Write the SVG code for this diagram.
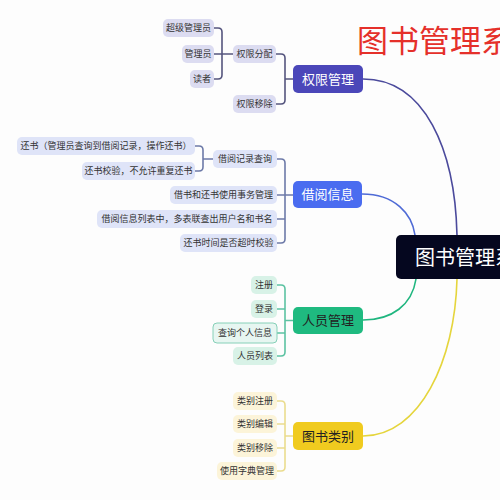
<svg xmlns="http://www.w3.org/2000/svg" width="500" height="500" viewBox="0 0 500 500">
<style>
text{font-family:"Noto Sans CJK SC","Noto Sans",sans-serif;}
.c{font-size:9px;fill:#333;text-anchor:middle;}
.m{font-size:13px;text-anchor:middle;}
.line{fill:none;stroke-width:1.6;stroke-linecap:round;}
.bp{fill:#dcdcf1;}
.bb{fill:#dfe4f8;}
.bg{fill:#d8f2e7;}
.by{fill:#fcf4d9;}
</style>
<rect width="500" height="500" fill="#fdfdfd"/>
<text x="357" y="52" style="font-size:31px;fill:#e5302a;">图书管理系</text>

<g id="connectors">
  <path class="line" stroke="#4b4a9c" d="M363,79 C425,79 455,150 457,235"/>
  <path class="line" stroke="#4f6bd6" d="M362,194 C395,194 412,214 415,235"/>
  <path class="line" stroke="#1fb67f" d="M416,279 C412,305 392,320 363,320"/>
  <path class="line" stroke="#e5d53c" d="M457,279 C455,360 420,436 363,436"/>

  <path class="line" stroke="#55557e" d="M214,28 H218 Q222,28 222,32 V75 Q222,79 218,79 H214 M214,54 H233"/>
  <path class="line" stroke="#55557e" d="M276,54 H281 Q285,54 285,58 V100 Q285,104 281,104 H276 M285,79 H293"/>

  <path class="line" stroke="#6d7aa8" d="M195,146 H199 Q203,146 203,150 V167 Q203,171 199,171 H195 M203,159 H213"/>
  <path class="line" stroke="#6d7aa8" d="M277,159 H281 Q285,159 285,163 V239 Q285,243 281,243 H277 M277,195 H293 M277,219 H285"/>

  <path class="line" stroke="#5cc2a2" d="M277,285 H281 Q285,285 285,289 V352 Q285,356 281,356 H277 M277,309 H285 M277,333 H285 M285,320.5 H293"/>

  <path class="line" stroke="#eadc8e" d="M277,401 H281 Q285,401 285,405 V467 Q285,471 281,471 H277 M277,424 H285 M277,448 H285 M285,436 H293"/>
</g>

<g id="root">
  <rect x="396" y="235" width="120" height="44" rx="5" fill="#05071f"/>
  <text x="415" y="265" style="font-size:20px;fill:#fff;">图书管理系</text>
</g>

<g id="n-quanxian">
  <rect x="293" y="65" width="70" height="28" rx="5" fill="#4b47b9"/>
  <text class="m" x="328" y="83.5" fill="#fff">权限管理</text>
</g>
<g id="n-fenpei"><rect class="bp" x="233" y="45" width="43" height="18" rx="5"/><text class="c" x="254.5" y="57.2">权限分配</text></g>
<g id="n-yichu"><rect class="bp" x="233" y="95" width="43" height="18" rx="5"/><text class="c" x="254.5" y="107.2">权限移除</text></g>
<g id="n-chaoji"><rect class="bp" x="163" y="19" width="51" height="18" rx="5"/><text class="c" x="188.5" y="31.2">超级管理员</text></g>
<g id="n-guanli"><rect class="bp" x="182" y="45" width="32" height="18" rx="5"/><text class="c" x="198" y="57.2">管理员</text></g>
<g id="n-duzhe"><rect class="bp" x="190" y="70" width="24" height="18" rx="5"/><text class="c" x="202" y="82.2">读者</text></g>

<g id="n-jieyue">
  <rect x="293" y="181" width="69" height="27" rx="5" fill="#4a6cf0"/>
  <text class="m" x="327.5" y="199" fill="#fff">借阅信息</text>
</g>
<g id="n-jilu"><rect class="bb" x="213" y="150" width="64" height="18" rx="5"/><text class="c" x="245" y="162.2">借阅记录查询</text></g>
<g id="n-huanshu"><rect class="bb" x="17" y="137" width="178" height="18" rx="5"/><text class="c" x="106" y="149.2">还书（管理员查询到借阅记录，操作还书）</text></g>
<g id="n-jiaoyan"><rect class="bb" x="82" y="162" width="113" height="18" rx="5"/><text class="c" x="138.5" y="174.2">还书校验，不允许重复还书</text></g>
<g id="n-shiwu"><rect class="bb" x="170" y="186" width="107" height="18" rx="5"/><text class="c" x="223.5" y="198.2">借书和还书使用事务管理</text></g>
<g id="n-liebiao"><rect class="bb" x="97" y="210" width="180" height="18" rx="5"/><text class="c" x="187" y="222.2">借阅信息列表中，多表联查出用户名和书名</text></g>
<g id="n-chaoshi"><rect class="bb" x="180" y="234" width="97" height="18" rx="5"/><text class="c" x="228.5" y="246.2">还书时间是否超时校验</text></g>

<g id="n-renyuan">
  <rect x="293" y="307" width="70" height="27" rx="5" fill="#1fba80"/>
  <text class="m" x="328" y="325" fill="#222">人员管理</text>
</g>
<g id="n-zhuce"><rect class="bg" x="251" y="276" width="26" height="18" rx="5"/><text class="c" x="264" y="288.2">注册</text></g>
<g id="n-denglu"><rect class="bg" x="251" y="300" width="26" height="18" rx="5"/><text class="c" x="264" y="312.2">登录</text></g>
<g id="n-geren"><rect x="213" y="323" width="64" height="20" rx="4" fill="#e7f6f1" stroke="#86d0b8" stroke-width="1"/><text class="c" x="245" y="336.2">查询个人信息</text></g>
<g id="n-ryliebiao"><rect class="bg" x="233" y="347" width="44" height="18" rx="5"/><text class="c" x="255" y="359.2">人员列表</text></g>

<g id="n-leibie">
  <rect x="293" y="422" width="70" height="28" rx="5" fill="#f0cb1f"/>
  <text class="m" x="328" y="440.5" fill="#222">图书类别</text>
</g>
<g id="n-lbzhuce"><rect class="by" x="233" y="392" width="44" height="18" rx="5"/><text class="c" x="255" y="404.2">类别注册</text></g>
<g id="n-lbbianji"><rect class="by" x="233" y="415" width="44" height="18" rx="5"/><text class="c" x="255" y="427.2">类别编辑</text></g>
<g id="n-lbyichu"><rect class="by" x="233" y="439" width="44" height="18" rx="5"/><text class="c" x="255" y="451.2">类别移除</text></g>
<g id="n-zidian"><rect class="by" x="217" y="462" width="60" height="18" rx="5"/><text class="c" x="247" y="474.2">使用字典管理</text></g>
</svg>
